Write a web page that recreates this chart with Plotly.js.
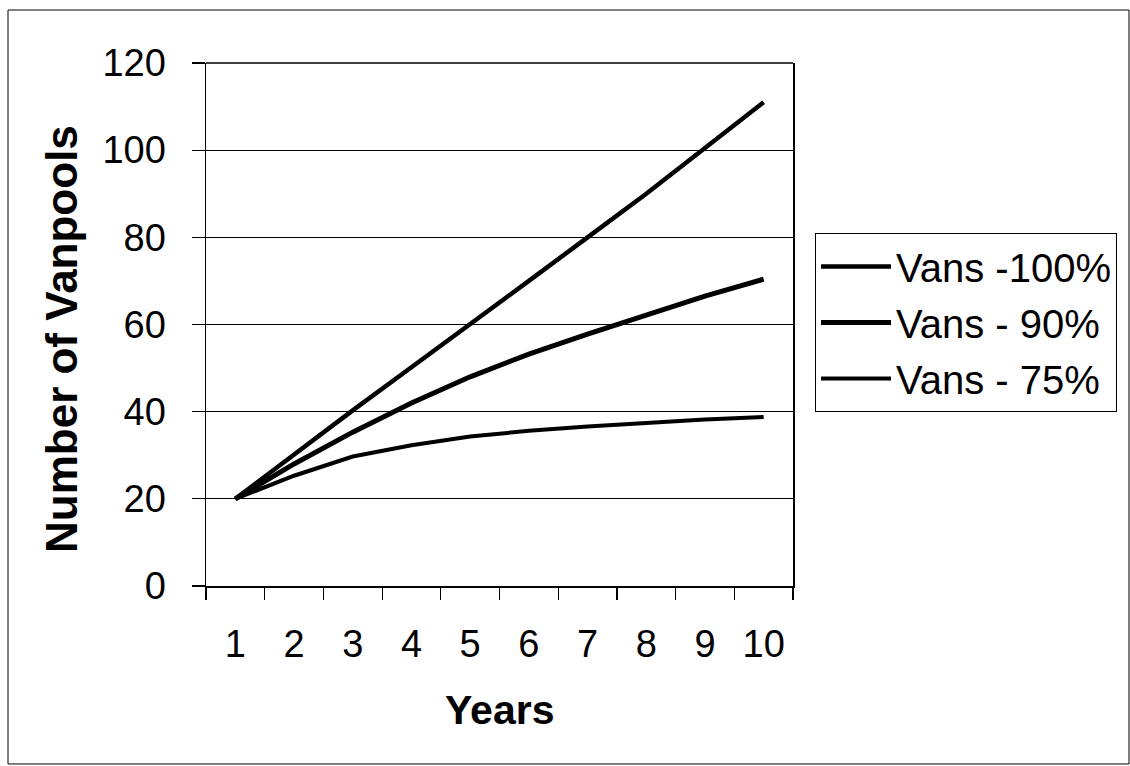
<!DOCTYPE html>
<html>
<head>
<meta charset="utf-8">
<script src="https://cdn.plot.ly/plotly-3.0.1.min.js"></script>
<style>
  html, body { margin: 0; padding: 0; background: #ffffff; }
  #chart { width: 1130px; height: 766px; }
</style>
</head>
<body>
<div id="chart"></div>
<script>
const years = ['1', '2', '3', '4', '5', '6', '7', '8', '9', '10'];
const seriesNames = ['Vans -100%', 'Vans - 90%', 'Vans - 75%'];
const vans100 = [20, 30.3, 40.3, 50.2, 60, 70, 80, 90, 100.5, 111];
const vans90 = [20, 28, 35.3, 42, 48, 53.2, 57.8, 62, 66.5, 70.4];
const vans75 = [20, 25.3, 29.7, 32.3, 34.3, 35.6, 36.6, 37.5, 38.2, 38.8];
const yTickVals = [0, 20, 40, 60, 80, 100, 120];
const xTitle = 'Years';
const yTitle = 'Number of Vanpools';

const FONT = 'Arial, "Liberation Sans", sans-serif';

const mk = (name, y, w, g) => ({
  type: 'scatter', mode: 'lines', name: name, x: years, y: y,
  line: { color: '#000000', width: w }, legendgroup: g
});

const traces = [
  mk(seriesNames[0], vans100, 4.5, 'a'),
  mk(seriesNames[1], vans90, 5, 'b'),
  mk(seriesNames[2], vans75, 4, 'c')
];

const layout = {
  width: 1130, height: 766,
  margin: { l: 206, r: 337, t: 63, b: 180, pad: 0 },
  paper_bgcolor: '#ffffff', plot_bgcolor: '#ffffff',
  font: { family: FONT, color: '#000000', size: 38 },
  showlegend: true,
  legend: {
    x: 1.0375, y: 0.675, xanchor: 'left', yanchor: 'top',
    bordercolor: '#000000', borderwidth: 1, bgcolor: '#ffffff',
    font: { family: FONT, size: 40, color: '#000000' },
    traceorder: 'grouped', tracegroupgap: 1,
    itemwidth: 70
  },
  xaxis: {
    type: 'category', tickson: 'boundaries',
    range: [-0.5, 9.5],
    showgrid: false, zeroline: false,
    showline: true, linecolor: '#000000', linewidth: 1.5,
    ticks: 'outside', ticklen: 12, tickwidth: 1.2, tickcolor: '#000000',
    tickfont: { family: FONT, size: 38, color: '#000000' },
    ticklabelstandoff: 24,
    fixedrange: true
  },
  yaxis: {
    range: [0, 120], tickvals: yTickVals,
    showgrid: true, gridcolor: '#000000', gridwidth: 1,
    zeroline: false,
    showline: true, linecolor: '#000000', linewidth: 1.5, mirror: true,
    ticks: 'outside', ticklen: 13, tickwidth: 1.2, tickcolor: '#000000',
    tickfont: { family: FONT, size: 38, color: '#000000' },
    ticklabelstandoff: 18,
    fixedrange: true
  },
  annotations: [
    { text: '<b>' + yTitle + '</b>', xref: 'paper', yref: 'paper',
      x: -0.2453, y: 0.4723, xanchor: 'center', yanchor: 'middle',
      textangle: -90, showarrow: false,
      font: { family: FONT, size: 44, color: '#000000' } },
    { text: '<b>' + xTitle + '</b>', xref: 'paper', yref: 'paper',
      x: 0.5, y: -0.2371, xanchor: 'center', yanchor: 'middle',
      showarrow: false,
      font: { family: FONT, size: 41, color: '#000000' } }
  ],
  shapes: [
    { type: 'rect', xref: 'paper', yref: 'paper',
      x0: -0.3373, x1: 1.5724, y0: -0.3403, y1: 1.1013,
      line: { color: '#000000', width: 1 }, fillcolor: 'rgba(0,0,0,0)', layer: 'below' },
    { type: 'line', xref: 'paper', yref: 'paper',
      x0: 0, x1: 1, y0: 1, y1: 1,
      line: { color: '#000000', width: 1.5 } }
  ]
};

Plotly.newPlot('chart', traces, layout, { displayModeBar: false, staticPlot: true });
</script>
</body>
</html>
